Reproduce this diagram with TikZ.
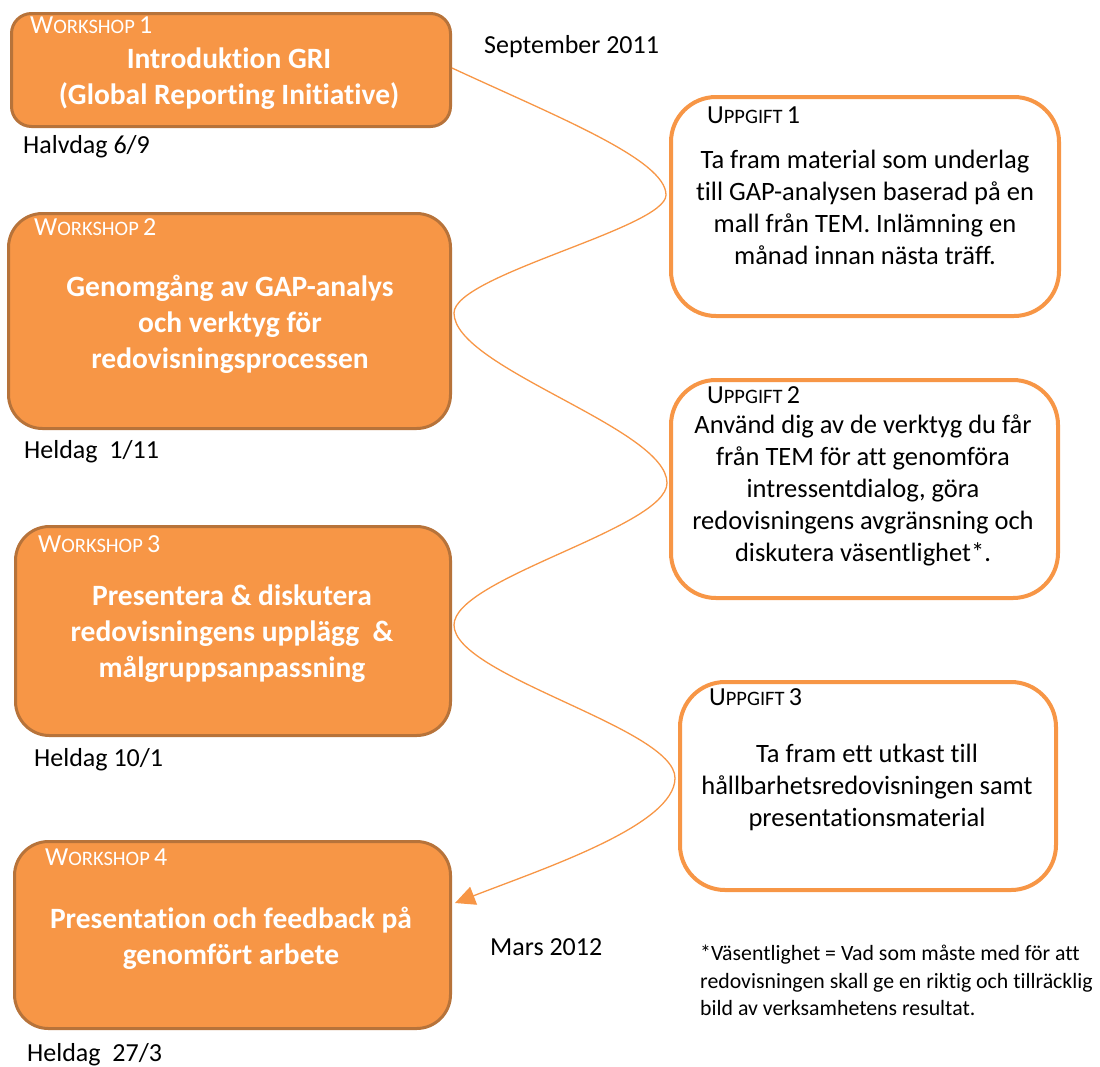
\documentclass[tikz,border=0pt]{standalone}
\usepackage{fontspec}
\setmainfont{Carlito}[Ligatures=NoCommon]
\usetikzlibrary{arrows.meta,calc}
\definecolor{org}{HTML}{F79646}
\definecolor{orgdark}{HTML}{B7733A}
\newcommand\smallcapslabel[3]{{\fontsize{26}{26}\selectfont #1{\fontsize{20.5}{26}\selectfont #2}\,#3}}
\begin{document}
\begin{tikzpicture}[x=1pt,y=-1pt,
  wsbox/.style={draw=orgdark,line width=3pt,fill=org,rounded corners=#1,inner sep=0pt},
  upbox/.style={draw=org,line width=4pt,fill=white,rounded corners=45pt,inner sep=0pt},
  wstitle/.style={text=white,font=\bfseries\fontsize{29.5}{36}\selectfont,align=center,inner sep=0pt},
  wslabel/.style={text=white,anchor=base west,inner sep=0pt},
  uplabel/.style={text=black,anchor=base west,inner sep=0pt},
  uptext/.style={text=black,font=\fontsize{26.5}{32}\selectfont,align=center,inner sep=0pt},
  datetext/.style={text=black,font=\fontsize{26}{30}\selectfont,anchor=base west,inner sep=0pt},
  flow/.style={draw=org,line width=1.3pt,-{Triangle[length=20pt,width=19pt]}}]
\useasboundingbox (0,0) rectangle (1100,1066);

% workshop boxes
\node[wsbox=20pt,minimum width=439pt,minimum height=113pt] (ws1) at (231,70) {};
\node[wsbox=34pt,minimum width=442pt,minimum height=215pt] (ws2) at (229.5,321) {};
\node[wsbox=34pt,minimum width=435pt,minimum height=209pt] (ws3) at (233,631) {};
\node[wsbox=34pt,minimum width=436pt,minimum height=187pt] (ws4) at (232.5,935) {};

\node[wslabel] (wl1) at (30,33) {\smallcapslabel{W}{ORKSHOP}{1}};
\node[wslabel] (wl2) at (34,235) {\smallcapslabel{W}{ORKSHOP}{2}};
\node[wslabel] (wl3) at (38,552) {\smallcapslabel{W}{ORKSHOP}{3}};
\node[wslabel] (wl4) at (45,865) {\smallcapslabel{W}{ORKSHOP}{4}};

\node[wstitle] (wt1) at (229,79) {Introduktion GRI\\(Global Reporting Initiative)};
\node[wstitle] (wt2) at (230,324) {Genomgång av GAP-analys\\och verktyg för\\redovisningsprocessen};
\node[wstitle] (wt3) at (232,634) {Presentera \& diskutera\\redovisningens upplägg \ \&\\målgruppsanpassning};
\node[wstitle] (wt4) at (231,938) {Presentation och feedback på\\genomfört arbete};

% dates
\node[datetext] (d1) at (23,153) {Halvdag 6/9};
\node[datetext] (d2) at (24,458) {Heldag~~1/11};
\node[datetext] (d3) at (34,766) {Heldag 10/1};
\node[datetext] (d4) at (27,1061) {Heldag~~27/3};
\node[datetext] (sep) at (484,53) {September 2011};
\node[datetext] (mars) at (490,955) {Mars 2012};

% uppgift boxes
\node[upbox,minimum width=388pt,minimum height=219pt] (u1) at (865,206.5) {};
\node[upbox,minimum width=387pt,minimum height=218pt] (u2) at (864.5,489) {};
\node[upbox,minimum width=376pt,minimum height=208pt] (u3) at (868,786) {};

\node[uplabel] (ul1) at (707,123) {\smallcapslabel{U}{PPGIFT}{1}};
\node[uplabel] (ul2) at (707,403) {\smallcapslabel{U}{PPGIFT}{2}};
\node[uplabel] (ul3) at (709,705) {\smallcapslabel{U}{PPGIFT}{3}};

\node[uptext] (ut1) at (865,207) {Ta fram material som underlag\\till GAP-analysen baserad på en\\mall från TEM. Inlämning en\\månad innan nästa träff.};
\node[uptext] (ut2) at (863,490) {Använd dig av de verktyg du får\\från TEM för att genomföra\\intressentdialog, göra\\redovisningens avgränsning och\\diskutera väsentlighet*.};
\node[uptext] (ut3) at (867,787) {Ta fram ett utkast till\\hållbarhetsredovisningen samt\\presentationsmaterial};

% footnote
\node[text=black,font=\fontsize{21.8}{27.5}\selectfont,align=left,anchor=north west,inner sep=0pt] (fn) at (700,945)
  {*Väsentlighet = Vad som måste med för att\\redovisningen skall ge en riktig och tillräcklig\\bild av verksamhetens resultat.};

% flow curve
\coordinate (pA) at (666,195);
\coordinate (pB) at (454,313);
\coordinate (pC) at (667,483);
\coordinate (pD) at (454,625);
\coordinate (pE) at (675,778);
\draw[flow] ([yshift=2pt]ws1.east) .. controls (560,118) and (666,160) .. (pA)
  .. controls (666,228) and (454,275) .. (pB)
  .. controls (454,368) and (667,428) .. (pC)
  .. controls (667,528) and (454,578) .. (pD)
  .. controls (454,676) and (675,728) .. (pE)
  .. controls (675,825) and (545,868) .. ([xshift=3pt,yshift=32pt]ws4.east);
\end{tikzpicture}
\end{document}
